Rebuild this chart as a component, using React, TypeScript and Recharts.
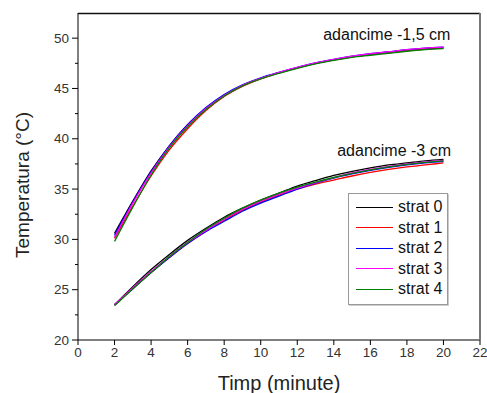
import { LineChart, Line, XAxis, YAxis, ReferenceDot } from "recharts";

// time in minutes
const TIME = [2, 3, 4, 5, 6, 7, 8, 9, 10, 11, 12, 13, 14, 15, 16, 17, 18, 19, 20];

// depth -1,5 cm
const UPPER_0 = [30.6, 33.8, 36.8, 39.3, 41.4, 43.0, 44.3, 45.3, 46.0, 46.55, 47.05, 47.5, 47.85, 48.15, 48.4, 48.6, 48.75, 48.9, 49.0];
const UPPER_1 = [30.1, 33.3, 36.3, 38.9, 41.0, 42.8, 44.2, 45.2, 45.95, 46.55, 47.05, 47.5, 47.85, 48.15, 48.4, 48.6, 48.8, 48.95, 49.05];
const UPPER_2 = [30.4, 33.7, 36.7, 39.3, 41.4, 43.1, 44.4, 45.35, 46.05, 46.6, 47.1, 47.55, 47.9, 48.2, 48.45, 48.65, 48.85, 49.0, 49.1];
const UPPER_3 = [30.2, 33.6, 36.6, 39.2, 41.3, 43.0, 44.3, 45.3, 46.0, 46.6, 47.1, 47.55, 47.9, 48.2, 48.45, 48.65, 48.85, 49.0, 49.1];
const UPPER_4 = [29.8, 33.2, 36.4, 39.1, 41.2, 42.9, 44.25, 45.25, 45.95, 46.5, 47.0, 47.45, 47.8, 48.1, 48.3, 48.5, 48.7, 48.85, 48.95];

// depth -3 cm
const LOWER_0 = [23.5, 25.3, 27.0, 28.5, 29.9, 31.1, 32.2, 33.1, 33.9, 34.6, 35.3, 35.85, 36.35, 36.75, 37.1, 37.4, 37.6, 37.8, 37.95];
const LOWER_1 = [23.5, 25.1, 26.7, 28.2, 29.6, 30.8, 31.9, 32.9, 33.7, 34.4, 35.0, 35.5, 35.9, 36.3, 36.65, 36.95, 37.2, 37.4, 37.6];
const LOWER_2 = [23.5, 25.1, 26.7, 28.2, 29.6, 30.8, 31.8, 32.8, 33.6, 34.3, 35.0, 35.6, 36.1, 36.5, 36.85, 37.15, 37.4, 37.6, 37.75];
const LOWER_3 = [23.5, 25.2, 26.8, 28.3, 29.7, 30.9, 32.0, 33.0, 33.8, 34.5, 35.1, 35.65, 36.15, 36.6, 36.95, 37.25, 37.5, 37.7, 37.85];
const LOWER_4 = [23.4, 25.1, 26.7, 28.3, 29.7, 31.0, 32.1, 33.1, 33.9, 34.6, 35.2, 35.7, 36.15, 36.55, 36.9, 37.2, 37.45, 37.65, 37.8];

const STRATS = ["strat 0", "strat 1", "strat 2", "strat 3", "strat 4"];
const COLORS = ["#000000", "#ff0000", "#0000ff", "#ff00ff", "#008000"];
const UPPER = [UPPER_0, UPPER_1, UPPER_2, UPPER_3, UPPER_4];
const LOWER = [LOWER_0, LOWER_1, LOWER_2, LOWER_3, LOWER_4];

const X_TICKS = [0, 2, 4, 6, 8, 10, 12, 14, 16, 18, 20, 22];
const Y_TICKS = [20, 22.5, 25, 27.5, 30, 32.5, 35, 37.5, 40, 42.5, 45, 47.5, 50];

const data = TIME.map((t, i) => {
  const row: Record<string, number> = { t };
  STRATS.forEach((_, s) => {
    row[`u${s}`] = UPPER[s][i];
    row[`l${s}`] = LOWER[s][i];
  });
  return row;
});

const FONT = "'Liberation Sans', Arial, sans-serif";
const PLOT_LEFT = 78;
const PLOT_TOP = 13;
const PLOT_RIGHT = 480;
const PLOT_BOTTOM = 340;

const YTick = (props: any) => {
  const { y, payload } = props;
  const v = payload.value;
  const major = v % 5 === 0;
  return (
    <g>
      <line x1={PLOT_LEFT - (major ? 6 : 3)} x2={PLOT_LEFT} y1={y} y2={y} stroke="#000" />
      {major && (
        <text x={PLOT_LEFT - 9} y={y} textAnchor="end" dominantBaseline="central" fontSize={13.5} fill="#333" fontFamily={FONT}>
          {v}
        </text>
      )}
    </g>
  );
};

// legend box drawn over the plot, like the original
const LegendBox = () => (
  <div
    style={{
      position: "absolute",
      left: 348,
      top: 193,
      border: "1px solid #999",
      boxShadow: "1px 1px 0 #ccc",
      background: "#fff",
      width: 98,
      padding: "3px 0 4px 0",
      fontFamily: FONT,
      fontSize: 16,
      color: "#111",
    }}
  >
    {STRATS.map((name, i) => (
      <div key={name} style={{ display: "flex", alignItems: "center", height: 20.5 }}>
        <div style={{ width: 37, height: 0, borderTop: `1.5px solid ${COLORS[i]}`, marginLeft: 7, marginRight: 5 }} />
        <span>{name}</span>
      </div>
    ))}
  </div>
);

export default function App() {
  return (
    <div style={{ position: "absolute", left: 0, top: 0, width: 487, height: 393 }}>
      <LineChart width={487} height={393} data={data} margin={{ top: PLOT_TOP, right: 487 - PLOT_RIGHT, bottom: 0, left: 0 }}>
        <XAxis
          dataKey="t"
          type="number"
          domain={[0, 22]}
          ticks={X_TICKS}
          height={393 - PLOT_BOTTOM}
          stroke="#000"
          tickSize={5}
          tickMargin={2}
          tick={{ fontSize: 13.5, fill: "#333", fontFamily: FONT }}
          label={{ value: "Timp (minute)", position: "insideBottom", offset: 3, fontSize: 20, fill: "#222", fontFamily: FONT }}
        />
        <YAxis
          type="number"
          domain={[20, 52.5]}
          ticks={Y_TICKS}
          width={PLOT_LEFT}
          stroke="#000"
          tickLine={false}
          tick={<YTick />}
          interval={0}
          label={{
            content: () => (
              <text x={22} y={185} transform="rotate(-90 22 185)" textAnchor="middle" dominantBaseline="central" fontSize={19} fill="#222" fontFamily={FONT}>
                Temperatura (°C)
              </text>
            ),
          }}
        />
        {STRATS.map((name, s) => (
          <Line
            key={`u${s}`}
            dataKey={`u${s}`}
            name={name}
            type="monotone"
            stroke={COLORS[s]}
            strokeWidth={1.3}
            dot={false}
            isAnimationActive={false}
          />
        ))}
        {STRATS.map((name, s) => (
          <Line
            key={`l${s}`}
            dataKey={`l${s}`}
            name={name}
            type="monotone"
            stroke={COLORS[s]}
            strokeWidth={1.3}
            dot={false}
            isAnimationActive={false}
          />
        ))}
        <ReferenceDot
          x={16.9}
          y={50.4}
          r={0}
          stroke="none"
          label={{ value: "adancime -1,5 cm", position: "center", fontSize: 16, fill: "#111", fontFamily: FONT }}
        />
        <ReferenceDot
          x={17.3}
          y={38.9}
          r={0}
          stroke="none"
          label={{ value: "adancime -3 cm", position: "center", fontSize: 16, fill: "#111", fontFamily: FONT }}
        />
      </LineChart>
      {/* top and right edges of the plot frame */}
      <svg width={487} height={393} style={{ position: "absolute", left: 0, top: 0, pointerEvents: "none" }}>
        <line x1={PLOT_LEFT} x2={PLOT_RIGHT} y1={PLOT_TOP + 0.5} y2={PLOT_TOP + 0.5} stroke="#111" strokeWidth={1.5} />
        <line x1={PLOT_RIGHT} x2={PLOT_RIGHT} y1={PLOT_TOP} y2={PLOT_BOTTOM} stroke="#777" strokeWidth={2} />
      </svg>
      <LegendBox />
    </div>
  );
}
